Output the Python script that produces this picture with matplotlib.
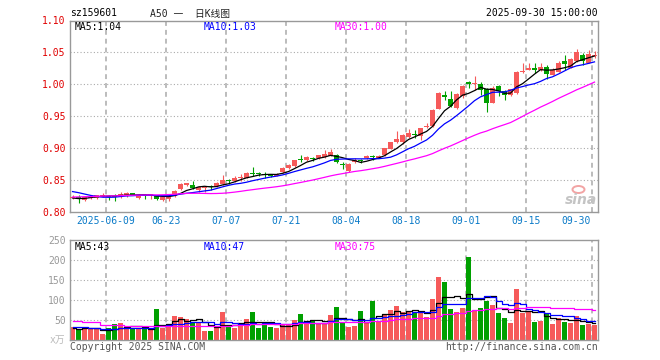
"""
sz159601 A50 - daily K-line chart, Sina finance style
"""

import matplotlib

matplotlib.use("Agg")
import matplotlib.pyplot as plt
import numpy as np
from matplotlib.patches import Ellipse

plt.rcParams["font.family"] = ["DejaVu Sans Mono", "Noto Sans CJK SC"]

# ---------------------------------------------------------------------------
# Data (88 sessions 2025-05-29 .. 2025-09-30)
# ---------------------------------------------------------------------------

opens = [
    0.822, 0.824, 0.8195, 0.822, 0.822, 0.8245, 0.825, 0.825, 0.8244, 0.825,
    0.829, 0.822, 0.826, 0.826, 0.8244, 0.819, 0.8205, 0.8244, 0.836, 0.843,
    0.843, 0.835, 0.837, 0.840, 0.840, 0.844, 0.849, 0.848, 0.853, 0.854,
    0.861, 0.860, 0.860, 0.858, 0.857, 0.862, 0.869, 0.872, 0.882, 0.881,
    0.884, 0.884, 0.886, 0.888, 0.889, 0.875, 0.865, 0.879, 0.881, 0.884,
    0.887, 0.885, 0.889, 0.899, 0.909, 0.910, 0.917, 0.922, 0.919, 0.933,
    0.934, 0.962, 0.983, 0.977, 0.963, 0.981, 1.003, 1.000, 1.000, 0.992,
    0.971, 0.998, 0.989, 0.984, 0.986, 1.019, 1.023, 1.025, 1.022, 1.027,
    1.015, 1.020, 1.037, 1.026, 1.036, 1.046, 1.034, 1.045,
]
highs = [
    0.826, 0.826, 0.825, 0.827, 0.827, 0.829, 0.827, 0.828, 0.831, 0.831,
    0.830, 0.828, 0.828, 0.828, 0.825, 0.825, 0.826, 0.835, 0.846, 0.845,
    0.848, 0.840, 0.840, 0.843, 0.847, 0.858, 0.851, 0.857, 0.860, 0.862,
    0.870, 0.862, 0.8625, 0.859, 0.861, 0.870, 0.8755, 0.882, 0.8895, 0.887,
    0.886, 0.890, 0.897, 0.898, 0.891, 0.878, 0.877, 0.885, 0.883, 0.889,
    0.890, 0.890, 0.901, 0.910, 0.927, 0.922, 0.930, 0.928, 0.932, 0.940,
    0.961, 0.988, 0.989, 0.990, 0.986, 0.999, 1.0057, 1.013, 1.004, 0.995,
    0.997, 0.999, 0.991, 0.993, 1.021, 1.034, 1.033, 1.033, 1.033, 1.030,
    1.025, 1.036, 1.046, 1.041, 1.055, 1.049, 1.054, 1.053,
]
lows = [
    0.820, 0.814, 0.818, 0.821, 0.821, 0.823, 0.819, 0.818, 0.822, 0.824,
    0.826, 0.821, 0.820, 0.820, 0.819, 0.818, 0.8166, 0.823, 0.835, 0.840,
    0.836, 0.8307, 0.832, 0.835, 0.839, 0.843, 0.844, 0.847, 0.849, 0.853,
    0.857, 0.857, 0.853, 0.855, 0.856, 0.861, 0.868, 0.871, 0.8776, 0.880,
    0.880, 0.883, 0.885, 0.887, 0.876, 0.868, 0.863, 0.877, 0.876, 0.883,
    0.882, 0.884, 0.888, 0.898, 0.908, 0.907, 0.916, 0.916, 0.913, 0.932,
    0.933, 0.961, 0.975, 0.965, 0.962, 0.979, 0.995, 0.991, 0.983, 0.956,
    0.970, 0.981, 0.975, 0.982, 0.985, 1.017, 1.022, 1.017, 1.021, 1.009,
    1.014, 1.019, 1.022, 1.025, 1.035, 1.030, 1.033, 1.042,
]
closes = [
    0.824, 0.821, 0.8235, 0.825, 0.826, 0.827, 0.824, 0.824, 0.8286, 0.829,
    0.827, 0.826, 0.825, 0.827, 0.8204, 0.824, 0.824, 0.833, 0.844, 0.8435,
    0.837, 0.839, 0.838, 0.839, 0.846, 0.850, 0.848, 0.853, 0.8556, 0.861,
    0.860, 0.859, 0.858, 0.857, 0.860, 0.869, 0.873, 0.881, 0.881, 0.886,
    0.883, 0.8895, 0.8905, 0.8947, 0.878, 0.873, 0.8755, 0.882, 0.880, 0.887,
    0.886, 0.888, 0.900, 0.909, 0.914, 0.921, 0.924, 0.920, 0.931, 0.935,
    0.960, 0.987, 0.980, 0.966, 0.985, 0.997, 1.001, 1.002, 0.991, 0.971,
    0.995, 0.989, 0.984, 0.992, 1.020, 1.020, 1.026, 1.022, 1.027, 1.016,
    1.022, 1.033, 1.032, 1.040, 1.051, 1.037, 1.048, 1.046,
]
volumes = [
    33, 27, 31, 29, 27, 15, 29, 39, 42, 32,
    28, 28, 28, 27, 77, 30, 38, 60, 57, 52,
    45, 45, 23, 22, 33, 70, 35, 31, 41, 52,
    70, 31, 37, 32, 31, 39, 39, 50, 65, 47,
    47, 42, 42, 62, 83, 43, 33, 35, 72, 43,
    97, 48, 62, 75, 85, 71, 71, 68, 72, 58,
    102, 157, 145, 77, 71, 80, 208, 73, 80, 98,
    87, 67, 56, 43, 127, 67, 72, 46, 48, 68,
    40, 55, 46, 42, 61, 37, 40, 38,
]

# sessions before the first visible candle, only needed for the moving averages
prior_closes = [
    0.812, 0.815, 0.818, 0.816, 0.814, 0.817, 0.820, 0.822, 0.819, 0.816,
    0.818, 0.821, 0.823, 0.820, 0.817, 0.815, 0.818, 0.822, 0.826, 0.832,
    0.838, 0.845, 0.846, 0.842, 0.839, 0.826, 0.822, 0.819, 0.819,
]
prior_volumes = [
    55, 60, 48, 70, 200, 55, 50, 42, 47, 44,
    51, 46, 40, 43, 48, 45, 41, 39, 44, 42,
    40, 35, 38, 36, 36, 30, 26, 28, 28,
]

tick_index = [6, 16, 26, 36, 46, 56, 66, 76, 87]
tick_labels = ["2025-06-09", "06-23", "07-07", "07-21", "08-04",
               "08-18", "09-01", "09-15", "09-30"]

price_ticks = [0.80, 0.85, 0.90, 0.95, 1.00, 1.05, 1.10]
volume_ticks = [50, 100, 150, 200, 250]

ma_periods = [5, 10, 30]
ma_price_text = ["MA5:1.04", "MA10:1.03", "MA30:1.00"]
ma_volume_text = ["MA5:43", "MA10:47", "MA30:75"]

# ---------------------------------------------------------------------------
# Style
# ---------------------------------------------------------------------------

RED = "#f65a5a"
GREEN = "#00a000"
MA_COLORS = ["#000000", "#0000ff", "#ff00ff"]
GRID = "#aaaaaa"
FRAME = "#999999"
FS = 7
W, H = 660, 360


def fx(px):
    return px / W


def fy(py):
    return 1 - py / H


def moving_average(prior, values, n):
    full = np.asarray(prior + values, dtype=float)
    ma = np.convolve(full, np.ones(n) / n, mode="valid")
    return ma[-len(values):]


def style_panel(ax, hlines):
    for s in ax.spines.values():
        s.set_color(FRAME)
        s.set_linewidth(1.0)
    for h in hlines:
        ax.axhline(h, color=GRID, lw=0.8, ls=(0, (1, 2)), zorder=0)
    for i in tick_index:
        ax.axvline(i - 0.42, color=GRID, lw=1.1, ls=(0, (3.2, 2.6)), zorder=0)
    ax.set_xlim(-0.42, 87.53)
    ax.set_xticks([])
    ax.tick_params(axis="y", length=0, pad=3, labelsize=FS)


# ---------------------------------------------------------------------------
# Plot
# ---------------------------------------------------------------------------

o = np.array(opens)
c = np.array(closes)
x = np.arange(len(closes))
colors = [RED if cc >= oo else GREEN for oo, cc in zip(opens, closes)]

fig = plt.figure(figsize=(6.6, 3.6), dpi=100)
fig.patch.set_facecolor("white")

ax = fig.add_axes([fx(70), fy(212), (597.7 - 70) / W, (212 - 20.5) / H])
vax = fig.add_axes([fx(70), fy(340), (597.7 - 70) / W, 100 / H])

# price panel
style_panel(ax, price_ticks[1:-1])
ax.set_ylim(price_ticks[0], price_ticks[-1])
ax.set_yticks(price_ticks)
ax.set_yticklabels([f"{t:.2f}" for t in price_ticks], color="#e00000")

ax.vlines(x, lows, highs, colors=colors, lw=0.8, zorder=2)
ax.bar(x, np.maximum(np.abs(c - o), 0.0017), bottom=np.minimum(o, c),
       width=0.83, color=colors, lw=0, zorder=3)
for n, col in zip(ma_periods, MA_COLORS):
    ax.plot(x, moving_average(prior_closes, closes, n), color=col, lw=0.9, zorder=4)

for i, lab in zip(tick_index, tick_labels):
    ha = "right" if i == tick_index[-1] else "center"
    xpos = i - 0.42 - (0.15 if ha == "right" else 0)
    ax.text(xpos, -0.047, lab, transform=ax.get_xaxis_transform(),
            ha=ha, va="center", fontsize=FS, color="#0a7ac8")

# volume panel
style_panel(vax, volume_ticks[:-1])
vax.set_ylim(0, 250)
vax.set_yticks(volume_ticks)
vax.set_yticklabels([str(t) for t in volume_ticks], color="#999999")
vax.bar(x, volumes, width=0.83, color=colors, lw=0, zorder=2)
for n, col in zip(ma_periods, MA_COLORS):
    vax.plot(x, moving_average(prior_volumes, volumes, n), color=col, lw=0.9,
             drawstyle="steps-mid", zorder=3)

# texts
fig.text(fx(70), fy(13.5), "sz159601", fontsize=FS, va="center", color="#000000")
fig.text(fx(150.5), fy(13.5), "A50 一  日K线图", fontsize=FS, va="center", color="#222222")
fig.text(fx(597.5), fy(13.5), "2025-09-30 15:00:00", fontsize=FS, va="center",
         ha="right", color="#000000")

for xp, t, col in zip([75, 204, 334.5], ma_price_text, MA_COLORS):
    fig.text(fx(xp), fy(26.8), t, fontsize=FS, va="center", color=col)
for xp, t, col in zip([75, 204, 334.5], ma_volume_text, MA_COLORS):
    fig.text(fx(xp), fy(246.8), t, fontsize=FS, va="center", color=col)

fig.text(fx(65.5), fy(339.5), "x万", fontsize=FS, va="center", ha="right", color="#bbbbbb")
fig.text(fx(70), fy(346.5), "Copyright 2025 SINA.COM", fontsize=FS, va="center",
         color="#555555")
fig.text(fx(597.5), fy(346.5), "http://finance.sina.com.cn", fontsize=FS, va="center",
         ha="right", color="#555555")

# sina watermark
fig.text(fx(581), fy(199.5), "sina", fontsize=10, style="italic", weight="bold",
         family="DejaVu Sans", ha="center", va="center", color="#c4c4c4")
fig.add_artist(Ellipse((fx(578.5), fy(189.5)), 12 / W, 7 / H, transform=fig.transFigure,
                       fill=False, ec="#f2a4a4", lw=1.4))

fig.savefig("out.png", dpi=100)
